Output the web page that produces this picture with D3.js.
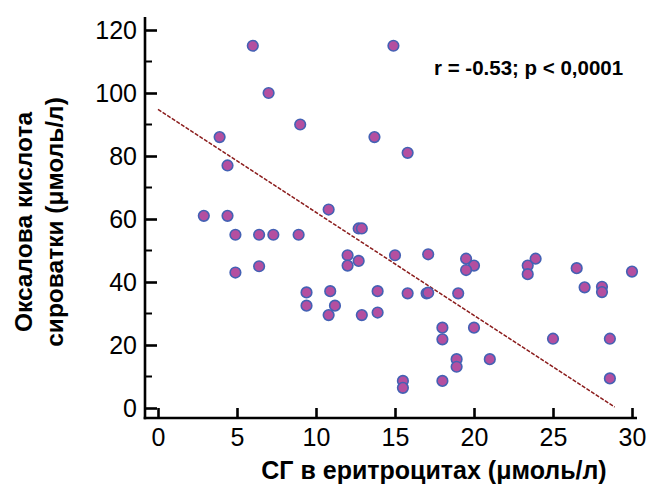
<!DOCTYPE html>
<html>
<head>
<meta charset="utf-8">
<script src="https://cdn.jsdelivr.net/npm/d3@7"></script>
<style>
  body { margin: 0; background: #fff; }
  svg { display: block; font-family: "Liberation Sans", Arial, sans-serif; }
</style>
</head>
<body>
<div id="chart"></div>
<script>
var svgWidth = 649;
var svgHeight = 495;

// scatter values: СГ (x) and oxalic acid (y)
var sgValues = [6, 7, 9, 3.9, 14.9, 13.7, 15.8, 4.4, 2.9, 4.4,
  4.9, 6.4, 7.3, 8.9, 4.9, 6.4, 10.8, 12.7, 12.9, 12,
  12, 12.7, 15, 17.1, 19.5, 20, 19.5, 23.9, 23.4, 23.4,
  26.5, 30, 9.4, 9.4, 10.9, 11.2, 10.8, 13.9, 12.9, 13.9,
  15.8, 17.0, 17.1, 19, 27, 28.1, 28.1, 18, 18, 20,
  25, 28.6, 18.9, 18.9, 21, 15.5, 15.5, 18, 28.6];
var oxalicValues = [115, 100, 90, 86, 115, 86, 81, 77, 61, 61,
  55, 55, 55, 55, 43, 45, 63, 57, 57, 48.5,
  45.2, 46.7, 48.5, 48.8, 47.4, 45.2, 43.8, 47.4, 45.2, 42.5,
  44.4, 43.3, 36.7, 32.5, 37.1, 32.5, 29.5, 37.1, 29.5, 30.3,
  36.4, 36.4, 36.6, 36.4, 38.3, 38.5, 36.8, 25.5, 21.8, 25.5,
  22, 22, 15.5, 13.1, 15.5, 8.6, 6.4, 8.6, 9.4];

// regression line end points
var regX = [0, 28.9];
var regY = [94.8, 0.3];

var xTicks = [0, 5, 10, 15, 20, 25, 30];
var yTicks = [0, 20, 40, 60, 80, 100, 120];
var yMinorTicks = [10, 30, 50, 70, 90, 110];

var points = sgValues.map(function(v, i) { return { x: v, y: oxalicValues[i] }; });

var svg = d3.select("#chart")
  .append("svg")
  .attr("width", svgWidth)
  .attr("height", svgHeight);

var xScale = d3.scaleLinear().domain([0, 30]).range([158, 632]);
var yScale = d3.scaleLinear().domain([0, 120]).range([408, 30]);

var axisX = 145;   // position of the y axis line
var axisY = 418;   // position of the x axis line

// y axis
var leftAxis = d3.axisLeft(yScale)
  .tickValues(yTicks)
  .tickSize(-12)
  .tickPadding(8);

var yAxis = svg.append("g")
  .attr("transform", `translate(${axisX}, 0)`)
  .call(leftAxis);

yAxis.select(".domain").remove();
yAxis.selectAll("line").attr("stroke", "#000").attr("stroke-width", 2.6);
yAxis.selectAll("text")
  .attr("font-size", 25)
  .attr("fill", "#000")
  .attr("font-family", "Liberation Sans, Arial, sans-serif");

yAxis.selectAll(".minor")
  .data(yMinorTicks)
  .enter()
  .append("line")
  .attr("class", "minor")
  .attr("x1", 0)
  .attr("x2", 7)
  .attr("y1", d => yScale(d))
  .attr("y2", d => yScale(d))
  .attr("stroke", "#000")
  .attr("stroke-width", 2);

svg.append("line")
  .attr("x1", axisX)
  .attr("x2", axisX)
  .attr("y1", 17)
  .attr("y2", axisY + 1.3)
  .attr("stroke", "#000")
  .attr("stroke-width", 2.6);

// x axis
var bottomAxis = d3.axisBottom(xScale)
  .tickValues(xTicks)
  .tickSize(-10)
  .tickPadding(10);

var xAxis = svg.append("g")
  .attr("transform", `translate(0, ${axisY})`)
  .call(bottomAxis);

xAxis.select(".domain").remove();
xAxis.selectAll("line").attr("stroke", "#000").attr("stroke-width", 2.6);
xAxis.selectAll("text")
  .attr("font-size", 25)
  .attr("fill", "#000")
  .attr("font-family", "Liberation Sans, Arial, sans-serif");

svg.append("line")
  .attr("x1", axisX - 1.3)
  .attr("x2", 637)
  .attr("y1", axisY)
  .attr("y2", axisY)
  .attr("stroke", "#000")
  .attr("stroke-width", 2.6);

// regression line
svg.append("line")
  .attr("x1", xScale(regX[0]))
  .attr("y1", yScale(regY[0]))
  .attr("x2", xScale(regX[1]))
  .attr("y2", yScale(regY[1]))
  .attr("stroke", "#8b1c1c")
  .attr("stroke-width", 1.5)
  .attr("stroke-dasharray", "4,1.5");

// points
svg.selectAll("circle")
  .data(points)
  .enter()
  .append("circle")
  .attr("cx", d => xScale(d.x))
  .attr("cy", d => yScale(d.y))
  .attr("r", 5.3)
  .attr("fill", "#b44fa0")
  .attr("stroke", "#4461b4")
  .attr("stroke-width", 1.6);

// annotation
svg.append("text")
  .attr("x", 434)
  .attr("y", 75)
  .attr("font-size", 20.5)
  .attr("font-weight", "bold")
  .attr("fill", "#000")
  .text("r = -0.53; p < 0,0001");

// axis titles
svg.append("text")
  .attr("x", 434)
  .attr("y", 479)
  .attr("text-anchor", "middle")
  .attr("font-size", 25)
  .attr("font-weight", "bold")
  .attr("fill", "#000")
  .text("СГ в еритроцитах (μмоль/л)");

var yTitle = svg.append("g")
  .attr("transform", "translate(0, 222) rotate(-90)")
  .attr("text-anchor", "middle")
  .attr("font-size", 24.5)
  .attr("font-weight", "bold")
  .attr("fill", "#000");

yTitle.append("text")
  .attr("x", 0)
  .attr("y", 32)
  .text("Оксалова кислота");

yTitle.append("text")
  .attr("x", 0)
  .attr("y", 63)
  .text("сироватки (μмоль/л)");
</script>
</body>
</html>
